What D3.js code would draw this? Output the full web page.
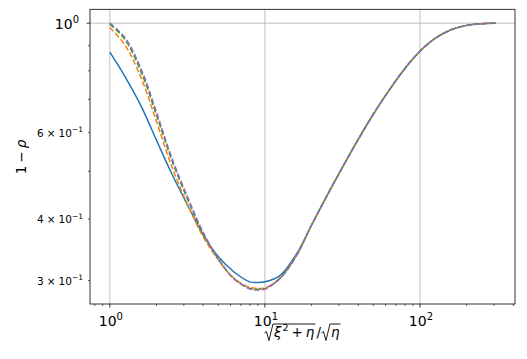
<!DOCTYPE html>
<html>
<head>
<meta charset="utf-8">
<script src="https://cdn.jsdelivr.net/npm/d3@7"></script>
<style>
  body { margin: 0; background: #fff; }
  text { font-family: "DejaVu Sans", sans-serif; fill: #000; }
</style>
</head>
<body>
<div id="chart"></div>
<script>
/* 1 - rho vs sqrt(xi^2+eta)/sqrt(eta), log-log */

let xs = [1, 1.25, 1.6, 2, 2.5, 3.2, 4, 5, 6.3, 8, 9, 10, 12.5, 16, 20, 25, 32, 40, 50, 63, 80, 100, 125, 160, 200, 250, 308];

// right branch is shared by all curves (from x = 20 on)
let tail = [0.389, 0.4446, 0.5129, 0.5808, 0.6531, 0.7295, 0.8091, 0.8770, 0.9311, 0.9705, 0.9897, 0.9977, 1.0];

let blueVals   = [0.873, 0.7798, 0.6761, 0.5781, 0.4955, 0.4246, 0.3715, 0.3357, 0.3126, 0.2981, 0.2972, 0.2982, 0.3069, 0.3396].concat(tail);
let orangeVals = [0.9795, 0.9036, 0.7709, 0.6310, 0.5129, 0.4256, 0.3681, 0.3304, 0.3034, 0.2904, 0.2893, 0.2897, 0.3034, 0.3377].concat(tail);
let greenVals  = [0.9954, 0.9268, 0.7925, 0.6501, 0.5284, 0.4365, 0.3733, 0.3319, 0.3027, 0.2891, 0.2881, 0.2885, 0.3030, 0.3373].concat(tail);
let purpleVals = [1.0, 0.9355, 0.8035, 0.6592, 0.5346, 0.4406, 0.3758, 0.3327, 0.3027, 0.2884, 0.2871, 0.2884, 0.3027, 0.3373].concat(tail);

let seriesList = [
    {name: "a", color: "#1f77b4", dash: null, vals: blueVals},
    {name: "b", color: "#ff7f0e", dash: "5.55,2.4", vals: orangeVals},
    {name: "c", color: "#2ca02c", dash: "5.55,2.4", vals: greenVals},
    {name: "d", color: "#9467bd", dash: "5.55,2.4", vals: purpleVals}
];

let xMajor = [1, 10, 100];
let xMinor = [0.8, 0.9, 2, 3, 4, 5, 6, 7, 8, 9, 20, 30, 40, 50, 60, 70, 80, 90, 200, 300, 400];
let yMajor = [1];
let yMinor = [0.3, 0.4, 0.5, 0.6, 0.7, 0.8, 0.9];
let yMinorLabels = {0.3: "3", 0.4: "4", 0.6: "6"};

let svg_width = 527, svg_height = 359;
let plotL = 90, plotR = 515, plotT = 9.3, plotB = 304;

let svg = d3.select("#chart")
    .append("svg")
    .attr("width", svg_width)
    .attr("height", svg_height);

let x = d3.scaleLog().domain([0.745, 410]).range([plotL, plotR]);
let y = d3.scaleLog().domain([0.2688, 1.067]).range([plotB, plotT]);

// grid (major only)
let grid = svg.append("g").attr("stroke", "#b0b0b0").attr("stroke-width", 0.8);
xMajor.forEach(function (v) {
    grid.append("line").attr("x1", x(v)).attr("x2", x(v)).attr("y1", plotT).attr("y2", plotB);
});
yMajor.forEach(function (v) {
    grid.append("line").attr("x1", plotL).attr("x2", plotR).attr("y1", y(v)).attr("y2", y(v));
});

// curves
let line = d3.line()
    .x(function (d) { return x(d[0]); })
    .y(function (d) { return y(d[1]); })
    .curve(d3.curveCatmullRom.alpha(0.5));

svg.append("clipPath").attr("id", "plotclip")
    .append("rect").attr("x", plotL).attr("y", plotT).attr("width", plotR - plotL).attr("height", plotB - plotT);

seriesList.forEach(function (s) {
    svg.append("path")
        .datum(xs.map(function (v, i) { return [v, s.vals[i]]; }))
        .attr("clip-path", "url(#plotclip)")
        .attr("fill", "none")
        .attr("stroke", s.color)
        .attr("stroke-width", 1.5)
        .attr("stroke-dasharray", s.dash)
        .attr("d", line);
});

// spines
svg.append("rect")
    .attr("x", plotL).attr("y", plotT)
    .attr("width", plotR - plotL).attr("height", plotB - plotT)
    .attr("fill", "none").attr("stroke", "#000").attr("stroke-width", 0.8);

// ticks
let ticks = svg.append("g").attr("stroke", "#000").attr("stroke-width", 0.8);
xMajor.forEach(function (v) {
    ticks.append("line").attr("x1", x(v)).attr("x2", x(v)).attr("y1", plotB).attr("y2", plotB + 3.5);
});
xMinor.forEach(function (v) {
    ticks.append("line").attr("x1", x(v)).attr("x2", x(v)).attr("y1", plotB).attr("y2", plotB + 2).attr("stroke-width", 0.6);
});
yMajor.forEach(function (v) {
    ticks.append("line").attr("x1", plotL - 3.5).attr("x2", plotL).attr("y1", y(v)).attr("y2", y(v));
});
yMinor.forEach(function (v) {
    ticks.append("line").attr("x1", plotL - 2).attr("x2", plotL).attr("y1", y(v)).attr("y2", y(v)).attr("stroke-width", 0.6);
});

// tick labels
let powLabel = function (parent, px, py, anchor, base, exp, size, supSize, supDy) {
    let t = parent.append("text")
        .attr("x", px).attr("y", py)
        .attr("text-anchor", anchor)
        .style("font-size", size + "px");
    t.append("tspan").text(base);
    t.append("tspan").text(exp).style("font-size", supSize + "px").attr("dy", supDy);
    return t;
};

xMajor.forEach(function (v) {
    let e = Math.round(Math.log10(v));
    powLabel(svg, x(v) + 1, plotB + 21.5, "middle", "10", e < 0 ? "\u2212" + (-e) : "" + e, 14, 10, -6);
});
yMajor.forEach(function (v) {
    let e = Math.round(Math.log10(v));
    powLabel(svg, 79, y(v) + 6, "end", "10", "" + e, 14, 10, -6);
});
yMinor.forEach(function (v) {
    if (!yMinorLabels[v]) return;
    let t = svg.append("text")
        .attr("x", 83).attr("y", y(v) + 4.3)
        .attr("text-anchor", "end")
        .style("font-size", "10.5px");
    t.append("tspan").text(yMinorLabels[v]);
    t.append("tspan").text("\u00d7").attr("dx", 3);
    t.append("tspan").text("10").attr("dx", 3);
    t.append("tspan").text("\u22121").style("font-size", "7.5px").attr("dy", -4.5);
});

// y label: 1 - rho
let ylab = svg.append("text")
    .attr("transform", "translate(26,157) rotate(-90)")
    .attr("text-anchor", "middle")
    .style("font-size", "13.5px");
ylab.append("tspan").text("1");
ylab.append("tspan").text("\u2212").attr("dx", 3);
ylab.append("tspan").text("\u03c1").attr("dx", 3).style("font-style", "italic");

// x label: sqrt(xi^2 + eta) / sqrt(eta), built piece by piece
let xlab = svg.append("g");
let cursor = 0;
let piece = function (s, opts) {
    opts = opts || {};
    let t = xlab.append("text")
        .attr("x", cursor)
        .attr("y", opts.dy || 0)
        .style("font-size", (opts.size || 13.5) + "px")
        .style("font-style", opts.italic ? "italic" : "normal")
        .text(s);
    cursor += t.node().getComputedTextLength() + (opts.pad || 0);
};
let radical = function (inner) {
    let x0 = cursor;
    cursor += 9.5;
    inner();
    let x1 = cursor + 1;
    xlab.append("path")
        .attr("d", "M" + x0 + ",-4 L" + (x0 + 2) + ",-5.5 L" + (x0 + 4.5) + ",3.5 L" + (x0 + 8.5) + ",-13 L" + x1 + ",-13")
        .attr("fill", "none")
        .attr("stroke", "#000")
        .attr("stroke-width", 0.9);
    cursor = x1 + 1;
};
radical(function () {
    piece("\u03be", {italic: true, pad: 1});
    piece("2", {size: 9.5, dy: -6, pad: 3});
    piece("+", {pad: 3});
    piece("\u03b7", {italic: true});
});
piece("/", {pad: 0.5});
radical(function () {
    piece("\u03b7", {italic: true});
});
xlab.attr("transform", "translate(" + (303 - cursor / 2) + ",337)");
</script>
</body>
</html>
